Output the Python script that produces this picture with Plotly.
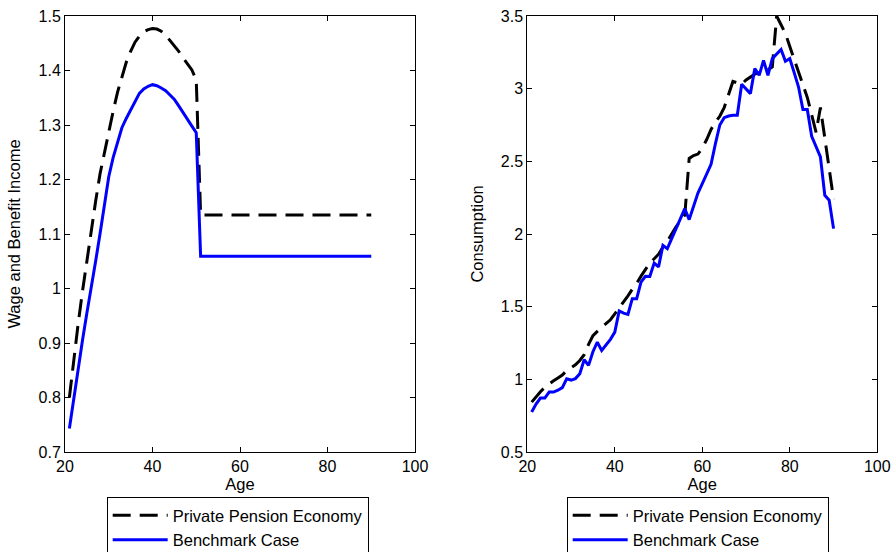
import plotly.graph_objects as go

ages = list(range(21, 91))

# Left panel: Wage and Benefit Income
income_private = [0.800, 0.870, 0.935, 0.995, 1.050, 1.110, 1.160, 1.210, 1.250, 1.290,
                  1.325, 1.360, 1.390, 1.415, 1.435, 1.452, 1.463, 1.471, 1.475, 1.477,
                  1.476, 1.472, 1.465, 1.455, 1.447, 1.435, 1.423, 1.412, 1.401, 1.383] + [1.135] * 40
income_bench = [0.743, 0.800, 0.855, 0.905, 0.955, 1.000, 1.050, 1.100, 1.155, 1.205,
                1.240, 1.270, 1.295, 1.312, 1.328, 1.345, 1.358, 1.366, 1.371, 1.374,
                1.372, 1.368, 1.363, 1.355, 1.347, 1.335, 1.322, 1.310, 1.298, 1.286] + [1.059] * 40

# Right panel: Consumption
cons_private = [0.843, 0.880, 0.915, 0.945, 0.970, 0.990, 1.010, 1.030, 1.060, 1.080,
                1.100, 1.130, 1.170, 1.240, 1.300, 1.330, 1.355, 1.385, 1.410, 1.450,
                1.490, 1.530, 1.575, 1.620, 1.660, 1.710, 1.760, 1.800, 1.830, 1.860,
                1.910, 1.950, 2.000, 2.050, 2.090, 2.130, 2.520, 2.540, 2.550, 2.590,
                2.650, 2.720, 2.770, 2.810, 2.870, 2.960, 3.050, 3.040, 3.030, 3.060,
                3.080, 3.100, 3.110, 3.120, 3.130, 3.150, 3.500, 3.440, 3.380, 3.290,
                3.200, 3.120, 3.030, 2.940, 2.820, 2.700, 2.870, 2.660, 2.450, 2.240]
cons_bench = [0.775, 0.830, 0.871, 0.871, 0.912, 0.912, 0.925, 0.943, 1.004, 0.995,
              1.005, 1.039, 1.135, 1.096, 1.190, 1.256, 1.199, 1.235, 1.275, 1.325,
              1.470, 1.455, 1.447, 1.555, 1.555, 1.670, 1.709, 1.708, 1.800, 1.773,
              1.922, 1.899, 1.968, 2.040, 2.117, 2.174, 2.099, 2.190, 2.282, 2.347,
              2.410, 2.479, 2.622, 2.750, 2.800, 2.812, 2.817, 2.817, 3.030, 3.000,
              2.966, 3.138, 3.092, 3.195, 3.092, 3.207, 3.240, 3.269, 3.188, 3.207,
              3.110, 3.011, 2.856, 2.856, 2.672, 2.600, 2.530, 2.266, 2.232, 2.037]

series_names = ["Private Pension Economy", "Benchmark Case"]
x_ticks = [20, 40, 60, 80, 100]
y1_ticks = [0.7, 0.8, 0.9, 1.0, 1.1, 1.2, 1.3, 1.4, 1.5]
y1_labels = ["0.7", "0.8", "0.9", "1", "1.1", "1.2", "1.3", "1.4", "1.5"]
y2_ticks = [0.5, 1.0, 1.5, 2.0, 2.5, 3.0, 3.5]
y2_labels = ["0.5", "1", "1.5", "2", "2.5", "3", "3.5"]

FONT = "Liberation Sans, Arial, Helvetica, sans-serif"
DASH = "18px,9px"

fig = go.Figure()
fig.add_trace(go.Scatter(x=ages, y=income_private, mode="lines", name=series_names[0],
                         line=dict(color="black", width=3, dash=DASH),
                         xaxis="x", yaxis="y", legend="legend"))
fig.add_trace(go.Scatter(x=ages, y=income_bench, mode="lines", name=series_names[1],
                         line=dict(color="#0000ff", width=3),
                         xaxis="x", yaxis="y", legend="legend"))
fig.add_trace(go.Scatter(x=ages, y=cons_private, mode="lines", name=series_names[0],
                         line=dict(color="black", width=3, dash=DASH),
                         xaxis="x2", yaxis="y2", legend="legend2"))
fig.add_trace(go.Scatter(x=ages, y=cons_bench, mode="lines", name=series_names[1],
                         line=dict(color="#0000ff", width=3),
                         xaxis="x2", yaxis="y2", legend="legend2"))

W, H = 896, 552
ydom = [(H - 452) / H, (H - 16) / H]

axis_common = dict(showgrid=False, zeroline=False, showline=True, linecolor="black",
                   linewidth=1, mirror="allticks", ticks="inside", ticklen=5,
                   tickcolor="black", automargin=False,
                   tickfont=dict(size=16, color="black", family=FONT))

legend_common = dict(xanchor="left", yanchor="top", bordercolor="black", borderwidth=1,
                     bgcolor="white", font=dict(size=16.5, family=FONT, color="black"),
                     tracegroupgap=0, itemwidth=55)

fig.update_layout(
    width=W, height=H,
    margin=dict(l=0, r=0, t=0, b=0, autoexpand=False),
    paper_bgcolor="white", plot_bgcolor="white",
    font=dict(family=FONT, color="black"),
    xaxis=dict(domain=[65 / W, 415 / W], range=[20, 100], tickvals=x_ticks,
               anchor="y", title=dict(text="Age", font=dict(size=16.5), standoff=2),
               **axis_common),
    yaxis=dict(domain=ydom, range=[0.7, 1.5], tickvals=y1_ticks, ticktext=y1_labels,
               anchor="x",
               title=dict(text="Wage and Benefit Income", font=dict(size=16.5), standoff=13),
               **axis_common),
    xaxis2=dict(domain=[527.3 / W, 877.3 / W], range=[20, 100], tickvals=x_ticks,
                anchor="y2", title=dict(text="Age", font=dict(size=16.5), standoff=2),
                **axis_common),
    yaxis2=dict(domain=ydom, range=[0.5, 3.5], tickvals=y2_ticks, ticktext=y2_labels,
                anchor="x2",
                title=dict(text="Consumption", font=dict(size=16.5), standoff=13),
                **axis_common),
    legend=dict(x=106.7 / W, y=(H - 497) / H, **legend_common),
    legend2=dict(x=566.7 / W, y=(H - 497) / H, **legend_common),
)

fig.write_html("out.html", config={"displayModeBar": False},
               post_script="document.body.style.margin='0';document.body.style.overflow='hidden';")
